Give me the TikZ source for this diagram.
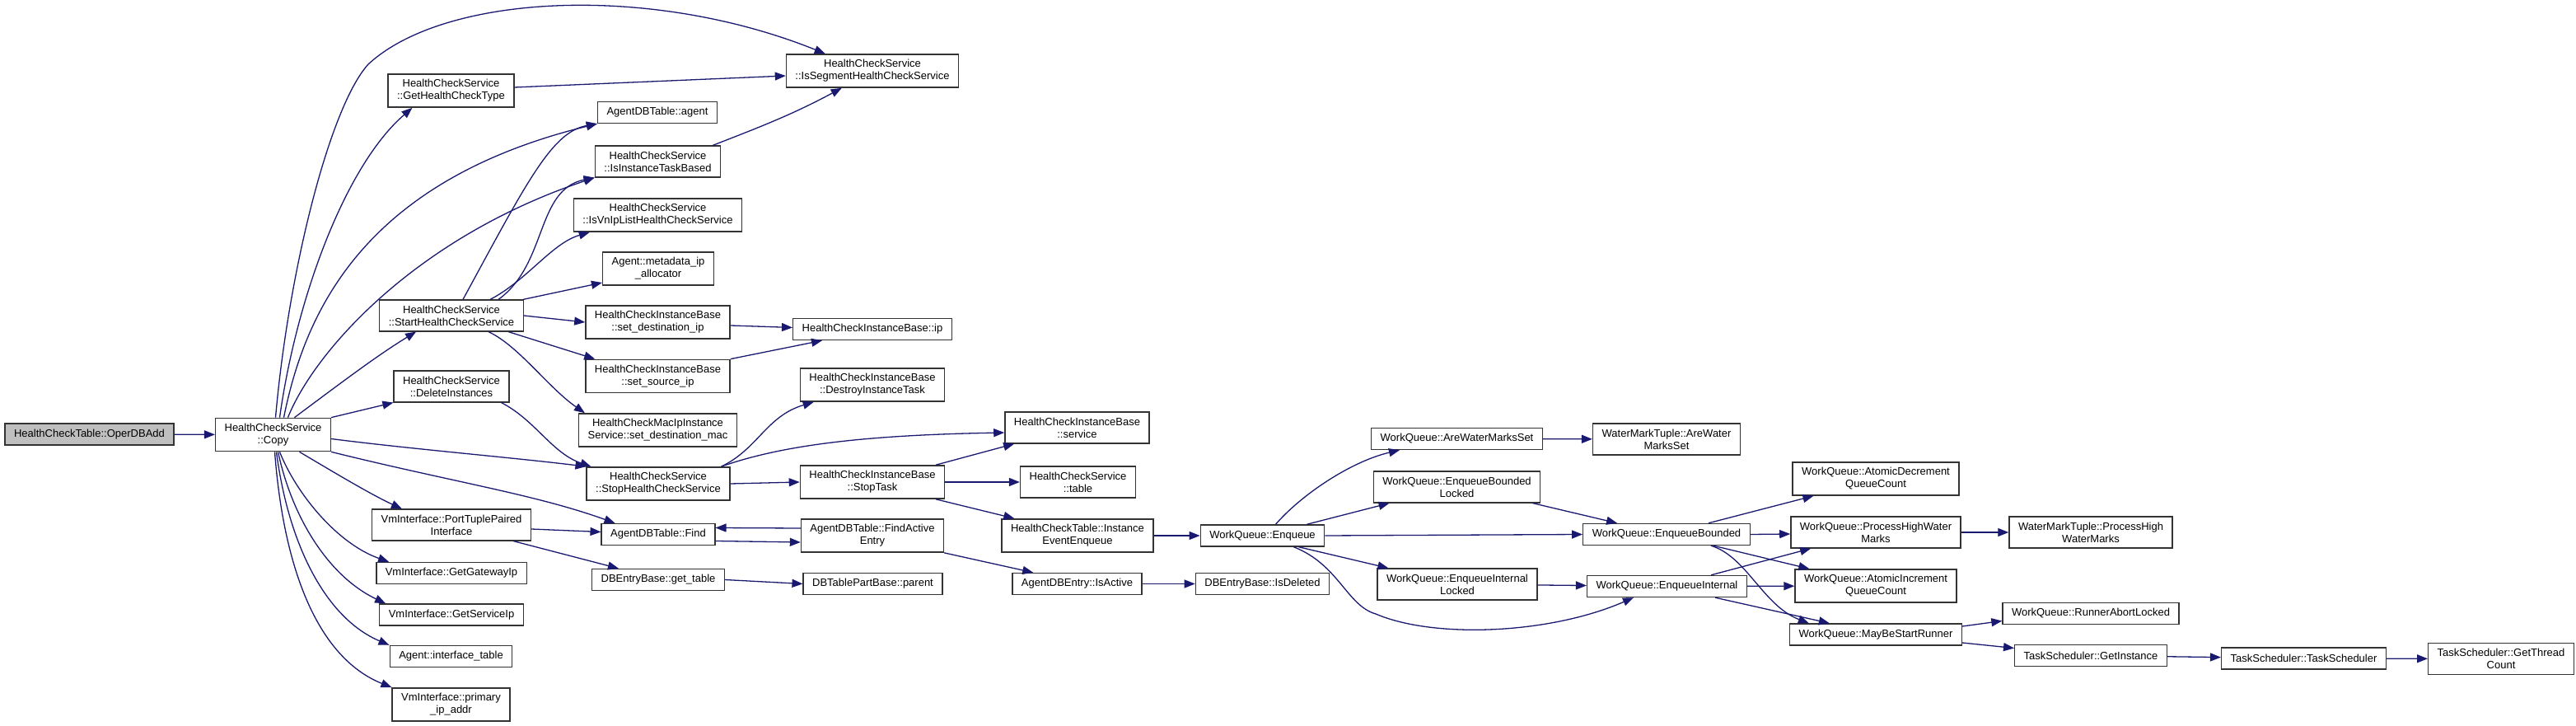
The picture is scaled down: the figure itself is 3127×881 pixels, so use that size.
\documentclass[tikz,border=0pt]{standalone}
\usepackage{fontspec}
\setmainfont{Liberation Sans}
\usetikzlibrary{arrows.meta, calc}
\definecolor{midnight}{HTML}{191970}

\begin{document}
\begin{tikzpicture}[
        x=0.5pt, y=-0.5pt,
        font=\fontsize{6.5}{7.5}\selectfont,
        fn/.style={rectangle, draw=black!80, line width=0.7pt, fill=white,
                   align=center, inner xsep=5.5pt, inner ysep=3.3pt, minimum height=13pt},
        root/.style={fn, fill=black!25},
        call/.style={-{Triangle[length=6.5pt,width=5pt]}, draw=midnight, line width=0.65pt},
    ]
        \useasboundingbox (0,0) rectangle (3127,881);

        % column 0-1
        \node[root] (oper) at (108.5,527) {HealthCheckTable::OperDBAdd};
        \node[fn] (copy) at (331.5,527.5) {HealthCheckService\\::Copy};

        % column 2
        \node[fn] (ghct) at (547.5,110) {HealthCheckService\\::GetHealthCheckType};
        \node[fn] (start) at (548,383) {HealthCheckService\\::StartHealthCheckService};
        \node[fn] (del) at (548,469) {HealthCheckService\\::DeleteInstances};
        \node[fn] (ptp) at (548,637) {VmInterface::PortTuplePaired\\Interface};
        \node[fn] (gw) at (548,695.5) {VmInterface::GetGatewayIp};
        \node[fn] (sip) at (548,746) {VmInterface::GetServiceIp};
        \node[fn] (itab) at (547.5,796.5) {Agent::interface\_table};
        \node[fn] (pip) at (547.5,855) {VmInterface::primary\\\_ip\_addr};

        % column 3
        \node[fn] (agent) at (798,136.5) {AgentDBTable::agent};
        \node[fn] (itb) at (798.5,196) {HealthCheckService\\::IsInstanceTaskBased};
        \node[fn] (vnip) at (798.5,261) {HealthCheckService\\::IsVnIpListHealthCheckService};
        \node[fn] (meta) at (799,326) {Agent::metadata\_ip\\\_allocator};
        \node[fn] (sdip) at (798.5,391) {HealthCheckInstanceBase\\::set\_destination\_ip};
        \node[fn] (ssip) at (798.5,456.5) {HealthCheckInstanceBase\\::set\_source\_ip};
        \node[fn] (mac) at (798.5,522) {HealthCheckMacIpInstance\\Service::set\_destination\_mac};
        \node[fn] (stop) at (799,587) {HealthCheckService\\::StopHealthCheckService};
        \node[fn] (find) at (799,648.5) {AgentDBTable::Find};
        \node[fn] (gettable) at (799,703.5) {DBEntryBase::get\_table};

        % column 4
        \node[fn] (seg) at (1059,86) {HealthCheckService\\::IsSegmentHealthCheckService};
        \node[fn] (ip) at (1059,399.5) {HealthCheckInstanceBase::ip};
        \node[fn] (destroy) at (1059,467) {HealthCheckInstanceBase\\::DestroyInstanceTask};
        \node[fn] (stoptask) at (1059,585) {HealthCheckInstanceBase\\::StopTask};
        \node[fn] (fae) at (1059,650) {AgentDBTable::FindActive\\Entry};
        \node[fn] (parent) at (1059.5,708.5) {DBTablePartBase::parent};

        % column 5
        \node[fn] (service) at (1307.5,519) {HealthCheckInstanceBase\\::service};
        \node[fn] (table) at (1308.5,585) {HealthCheckService\\::table};
        \node[fn] (iee) at (1308,650) {HealthCheckTable::Instance\\EventEnqueue};
        \node[fn] (isact) at (1307.5,708.5) {AgentDBEntry::IsActive};

        % column 6-7
        \node[fn] (enq) at (1532.5,650) {WorkQueue::Enqueue};
        \node[fn] (isdel) at (1532.5,708.5) {DBEntryBase::IsDeleted};
        \node[fn] (awms) at (1768.5,532.5) {WorkQueue::AreWaterMarksSet};
        \node[fn] (ebl) at (1768.5,591) {WorkQueue::EnqueueBounded\\Locked};
        \node[fn] (eil) at (1769,709) {WorkQueue::EnqueueInternal\\Locked};

        % column 8-9
        \node[fn] (wmaw) at (2023,533) {WaterMarkTuple::AreWater\\MarksSet};
        \node[fn] (eb) at (2023,648.5) {WorkQueue::EnqueueBounded};
        \node[fn] (ei) at (2023.5,711.5) {WorkQueue::EnqueueInternal};
        \node[fn] (adec) at (2277,581) {WorkQueue::AtomicDecrement\\QueueCount};
        \node[fn] (phwm) at (2277,646) {WorkQueue::ProcessHighWater\\Marks};
        \node[fn] (ainc) at (2277,711) {WorkQueue::AtomicIncrement\\QueueCount};
        \node[fn] (mbsr) at (2277,770) {WorkQueue::MayBeStartRunner};

        % column 10-12
        \node[fn] (wmphwm) at (2538,646) {WaterMarkTuple::ProcessHigh\\WaterMarks};
        \node[fn] (ral) at (2538,744.5) {WorkQueue::RunnerAbortLocked};
        \node[fn] (gi) at (2538,795.5) {TaskScheduler::GetInstance};
        \node[fn] (ts) at (2796.5,799) {TaskScheduler::TaskScheduler};
        \node[fn] (gtc) at (3036,799.5) {TaskScheduler::GetThread\\Count};

        % calls out of Copy
        \draw[call] (oper) -- (copy);
        \draw[call] ($(copy.north)+(3,0)$) .. controls (350,330) and (400,130) .. (447,78)
            .. controls (540,-8) and (790,-20) .. ($(seg.north west)+(48,0)$);
        \draw[call] ($(copy.north)+(8,0)$) .. controls (360,360) and (420,200) .. ($(ghct.south west)+(30,0)$);
        \draw[call] ($(copy.north)+(13,0)$) .. controls (370,380) and (440,220) .. (agent.south west);
        \draw[call] ($(copy.north)+(18,0)$) .. controls (380,430) and (500,290) .. (itb.south west);
        \draw[call] ($(copy.north)+(26,0)$) .. controls (420,460) and (460,430) .. ($(start.south west)+(45,0)$);
        \draw[call] (copy.north east) -- (del.south west);
        \draw[call] ($(copy.east)+(0,5)$) .. controls (500,545) and (620,555) .. (stop.north west);
        \draw[call] (copy.south east) .. controls (550,585) and (650,600) .. ($(find.north west)+(17,0)$);
        \draw[call] ($(copy.south)+(32,0)$) .. controls (400,570) and (450,600) .. ($(ptp.north west)+(37,0)$);
        \draw[call] ($(copy.south)+(8,0)$) .. controls (360,600) and (410,660) .. ($(gw.north west)+(16,0)$);
        \draw[call] ($(copy.south)+(6,0)$) .. controls (355,630) and (400,700) .. ($(sip.north west)+(8,0)$);
        \draw[call] ($(copy.south)+(4,0)$) .. controls (350,660) and (395,750) .. (itab.north west);
        \draw[call] ($(copy.south)+(2,0)$) .. controls (345,700) and (390,800) .. (pip.north west);

        % calls out of StartHealthCheckService
        \draw[call] ($(start.north)+(14,0)$) .. controls (640,220) and (670,160) .. (agent.south west);
        \draw[call] ($(start.north)+(57,0)$) .. controls (665,320) and (650,230) .. (itb.south west);
        \draw[call] ($(start.north)+(47,0)$) .. controls (640,340) and (670,295) .. ($(vnip.south west)+(20,0)$);
        \draw[call] ($(start.north east)+(-1,0)$) -- ($(meta.west)+(0,17)$);
        \draw[call] (start.east) -- (sdip.west);
        \draw[call] ($(start.south)+(69,0)$) -- ($(ssip.north west)+(12,0)$);
        \draw[call] ($(start.south)+(45,0)$) .. controls (630,420) and (665,470) .. ($(mac.north west)+(8,0)$);

        \draw[call] ($(ghct.east)+(0,-4)$) -- ($(seg.west)+(0,6)$);
        \draw[call] ($(itb.north east)+(-10,0)$) .. controls (920,155) and (960,140) .. ($(seg.south west)+(68,0)$);
        \draw[call] ($(sdip.east)+(0,4)$) -- ($(ip.west)+(0,-2)$);
        \draw[call] (ssip.north east) -- ($(ip.south west)+(36,0)$);

        % stopping instances
        \draw[call] ($(del.south east)+(-10,0)$) .. controls (650,510) and (670,550) .. ($(stop.north west)+(6,0)$);
        \draw[call] ($(stop.north east)+(-11,0)$) .. controls (920,545) and (930,505) .. ($(destroy.south west)+(17,0)$);
        \draw[call] ($(stop.north east)+(-11,0)$) .. controls (950,540) and (1050,528) .. ($(service.west)+(0,6)$);
        \draw[call] (stop.east) -- (stoptask.west);
        \draw[call] ($(stoptask.north east)+(-11,0)$) -- ($(service.south west)+(12,0)$);
        \draw[call] (stoptask.east) -- (table.west);
        \draw[call] ($(stoptask.south east)+(-11,0)$) -- ($(iee.north west)+(16,0)$);

        % table lookups
        \draw[call] ($(ptp.east)+(0,5)$) -- ($(find.west)+(0,-3)$);
        \draw[call] ($(ptp.south east)+(-22,0)$) -- ($(gettable.north west)+(33,0)$);
        \draw[call] ($(find.east)+(0,8)$) -- ($(fae.west)+(0,8)$);
        \draw[call] ($(fae.west)+(0,-9)$) -- ($(find.east)+(0,-8)$);
        \draw[call] (fae.south east) -- ($(isact.north west)+(26,0)$);
        \draw[call] (gettable.east) -- (parent.west);
        \draw[call] (iee) -- (enq);
        \draw[call] (isact) -- (isdel);

        % work queue
        \draw[call] ($(enq.north)+(16,0)$) .. controls (1580,600) and (1640,560) .. ($(awms.south west)+(35,0)$);
        \draw[call] ($(enq.north east)+(-22,0)$) -- ($(ebl.south west)+(20,0)$);
        \draw[call] (enq.east) -- (eb.west);
        \draw[call] ($(enq.south east)+(-32,0)$) -- ($(eil.north west)+(14,0)$);
        \draw[call] ($(enq.south east)+(-38,0)$) .. controls (1625,685) and (1635,735) .. (1670,745)
            .. controls (1740,775) and (1880,770) .. ($(ei.south west)+(57,0)$);
        \draw[call] (awms) -- (wmaw);
        \draw[call] ($(ebl.south east)+(-10,0)$) -- ($(eb.north west)+(42,0)$);
        \draw[call] (eil) -- (ei);
        \draw[call] ($(eb.north east)+(-51,0)$) -- ($(adec.south west)+(26,0)$);
        \draw[call] (eb.east) -- ($(phwm.west)+(0,2)$);
        \draw[call] ($(eb.south east)+(-45,0)$) -- ($(ainc.north west)+(18,0)$);
        \draw[call] ($(eb.south east)+(-48,0)$) .. controls (2120,675) and (2140,735) .. ($(mbsr.north west)+(24,0)$);
        \draw[call] ($(ei.north east)+(-44,0)$) -- ($(phwm.south west)+(25,0)$);
        \draw[call] (ei) -- (ainc);
        \draw[call] ($(ei.south east)+(-39,0)$) -- ($(mbsr.north west)+(49,0)$);
        \draw[call] (phwm) -- (wmphwm);
        \draw[call] ($(mbsr.east)+(0,-10)$) -- ($(ral.west)+(0,9)$);
        \draw[call] ($(mbsr.east)+(0,10)$) -- ($(gi.west)+(0,-9)$);
        \draw[call] (gi) -- (ts);
        \draw[call] (ts) -- (gtc);
    \end{tikzpicture}
\end{document}
